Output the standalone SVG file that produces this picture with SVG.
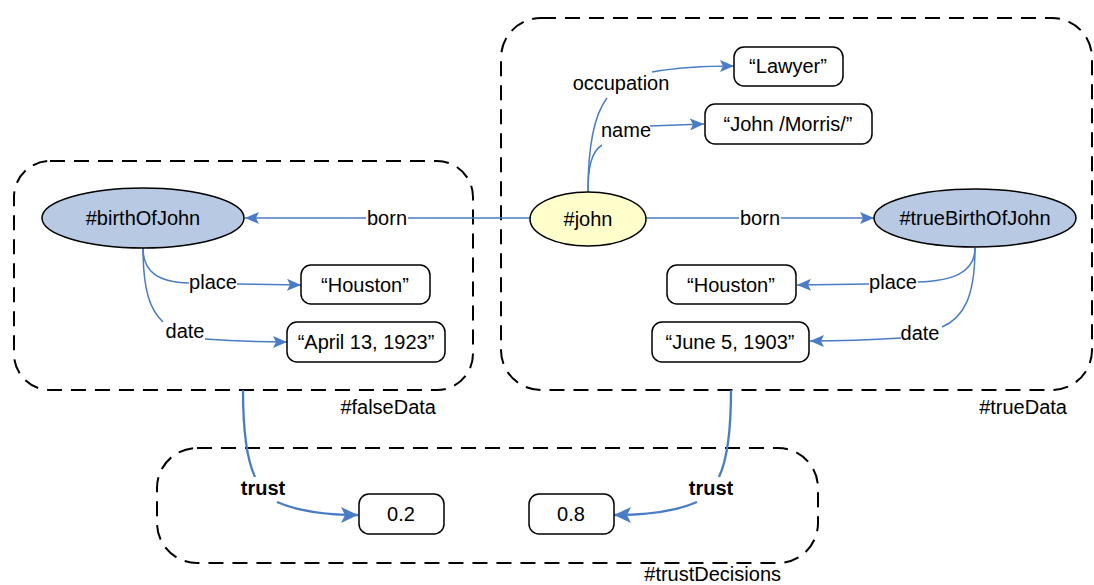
<svg xmlns="http://www.w3.org/2000/svg" width="1094" height="585" viewBox="0 0 1094 585">
  <style>
    text { font-family: "Liberation Sans", Arial, sans-serif; font-size: 20px; fill: #000; }
    .mid { text-anchor: middle; }
    .bold { font-weight: bold; }
    .group { fill: none; stroke: #000; stroke-width: 2; stroke-dasharray: 15 9; }
    .res { fill: #b7c9e3; stroke: #000; stroke-width: 1.5; }
    .subj { fill: #ffffcc; stroke: #000; stroke-width: 1.5; }
    .lit { fill: #fff; stroke: #000; stroke-width: 1.5; }
    .edge { fill: none; stroke: #4a7cc6; stroke-width: 1.5; }
    .edge.arrow { marker-end: url(#arrow); }
    .trust { fill: none; stroke: #4a7cc6; stroke-width: 2.3; }
    .trust.arrow { marker-end: url(#arrowBig); }
  </style>
  <defs>
    <marker id="arrow" viewBox="0 0 14 12" refX="14" refY="6" markerWidth="14" markerHeight="12" markerUnits="userSpaceOnUse" orient="auto">
      <path d="M0,0 L14,6 L0,12 L3,6 Z" fill="#4a7cc6"/>
    </marker>
    <marker id="arrowBig" viewBox="0 0 17 16" refX="17" refY="8" markerWidth="17" markerHeight="16" markerUnits="userSpaceOnUse" orient="auto">
      <path d="M0,0 L17,8 L0,16 L4,8 Z" fill="#4a7cc6"/>
    </marker>
  </defs>

  <rect width="1094" height="585" fill="#fff"/>

  <!-- named graphs -->
  <g id="graph-falseData">
    <rect class="group" x="14" y="161" width="459" height="229" rx="36" ry="36"/>
    <text x="436" y="414" text-anchor="end">#falseData</text>
  </g>
  <g id="graph-trueData">
    <rect class="group" x="501" y="18" width="591" height="372" rx="40" ry="40"/>
    <text x="1067" y="414" text-anchor="end">#trueData</text>
  </g>
  <g id="graph-trustDecisions">
    <rect class="group" x="157" y="448" width="661" height="115" rx="40" ry="40"/>
    <text x="781" y="581" text-anchor="end">#trustDecisions</text>
  </g>

  <!-- connectors -->
  <g id="connectors">
    <!-- born (false) -->
    <path class="edge" d="M530,218 L408,218"/>
    <path class="edge arrow" d="M366,218 L245,218"/>
    <text class="mid" x="387" y="225">born</text>
    <!-- born (true) -->
    <path class="edge" d="M646,218 L739,218"/>
    <path class="edge arrow" d="M781,218 L874,218"/>
    <text class="mid" x="760" y="225">born</text>
    <!-- occupation -->
    <path class="edge" d="M588,192 C588,150 594,115 607,98"/>
    <path class="edge arrow" d="M652,72 C675,68 700,66 734,66"/>
    <text class="mid" x="621" y="90">occupation</text>
    <!-- name -->
    <path class="edge" d="M588,192 C588,168 591,152 602,145"/>
    <path class="edge arrow" d="M650,126 L704,124"/>
    <text class="mid" x="626" y="137">name</text>
    <!-- place (false) -->
    <path class="edge" d="M143,248 C143,272 158,282 189,283"/>
    <path class="edge arrow" d="M237,284 L301,285"/>
    <text class="mid" x="213" y="289">place</text>
    <!-- date (false) -->
    <path class="edge" d="M143,248 C143,290 150,310 163,322"/>
    <path class="edge arrow" d="M205,339 C230,341 260,342 287,342"/>
    <text class="mid" x="185" y="338">date</text>
    <!-- place (true) -->
    <path class="edge" d="M975,248 C975,274 950,281 918,282"/>
    <path class="edge arrow" d="M869,284 L797,285"/>
    <text class="mid" x="893" y="289">place</text>
    <!-- date (true) -->
    <path class="edge" d="M975,248 C975,298 963,318 942,327"/>
    <path class="edge arrow" d="M901,338 C870,340 842,341 810,341"/>
    <text class="mid" x="920" y="340">date</text>
    <!-- trust (false) -->
    <path class="trust" d="M243,390 C243,430 247,460 255,477"/>
    <path class="trust arrow" d="M277,502 C300,512 330,515 358,515"/>
    <text class="mid bold" x="263" y="495">trust</text>
    <!-- trust (true) -->
    <path class="trust" d="M731,390 C731,430 727,460 719,477"/>
    <path class="trust arrow" d="M697,502 C674,512 644,515 614,515"/>
    <text class="mid bold" x="711" y="495">trust</text>
  </g>

  <!-- resources -->
  <g id="node-birthOfJohn">
    <ellipse class="res" cx="143" cy="218" rx="101" ry="30"/>
    <text class="mid" x="143" y="225">#birthOfJohn</text>
  </g>
  <g id="node-john">
    <ellipse class="subj" cx="588" cy="219" rx="58" ry="27"/>
    <text class="mid" x="588" y="226">#john</text>
  </g>
  <g id="node-trueBirthOfJohn">
    <ellipse class="res" cx="975" cy="218" rx="101" ry="29"/>
    <text class="mid" x="975" y="225">#trueBirthOfJohn</text>
  </g>

  <!-- literals -->
  <g id="node-lawyer">
    <rect class="lit" x="734" y="47" width="109" height="39" rx="10"/>
    <text class="mid" x="788" y="73">“Lawyer”</text>
  </g>
  <g id="node-name">
    <rect class="lit" x="705" y="104" width="167" height="40" rx="10"/>
    <text class="mid" x="788" y="131">“John /Morris/”</text>
  </g>
  <g id="node-placeFalse">
    <rect class="lit" x="301" y="265" width="129" height="39" rx="10"/>
    <text class="mid" x="365" y="292">“Houston”</text>
  </g>
  <g id="node-dateFalse">
    <rect class="lit" x="287" y="322" width="158" height="40" rx="10"/>
    <text class="mid" x="366" y="349">“April 13, 1923”</text>
  </g>
  <g id="node-placeTrue">
    <rect class="lit" x="667" y="265" width="129" height="39" rx="10"/>
    <text class="mid" x="731" y="292">“Houston”</text>
  </g>
  <g id="node-dateTrue">
    <rect class="lit" x="652" y="322" width="157" height="40" rx="10"/>
    <text class="mid" x="730" y="349">“June 5, 1903”</text>
  </g>
  <g id="node-trust02">
    <rect class="lit" x="359" y="494" width="85" height="40" rx="10"/>
    <text class="mid" x="401" y="521">0.2</text>
  </g>
  <g id="node-trust08">
    <rect class="lit" x="529" y="494" width="85" height="40" rx="10"/>
    <text class="mid" x="571" y="521">0.8</text>
  </g>
</svg>
